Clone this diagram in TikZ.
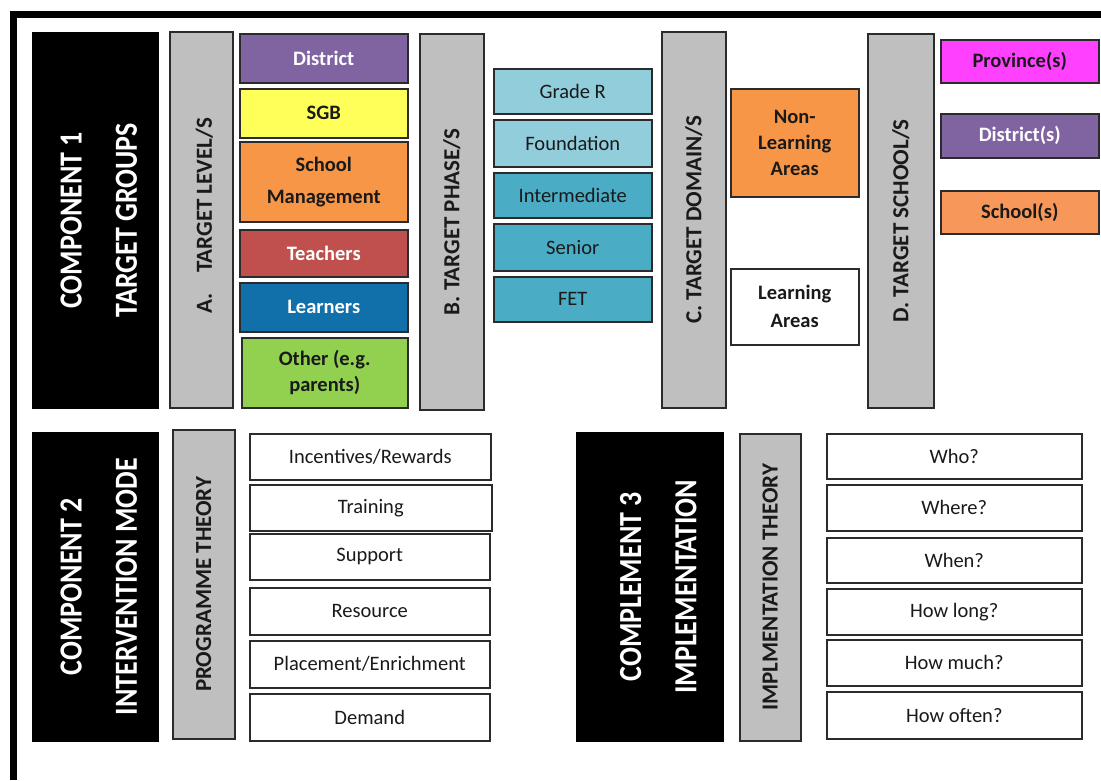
\documentclass[tikz,border=0pt]{standalone}
\usepackage{fontspec}
\setmainfont{Carlito}
\definecolor{boxline}{HTML}{2B2B2B}
\definecolor{barfill}{HTML}{BFBFBF}
\definecolor{cpurple}{HTML}{8064A2}
\definecolor{cyellow}{HTML}{FFFF5A}
\definecolor{corange}{HTML}{F79646}
\definecolor{cred}{HTML}{C0504D}
\definecolor{cblue}{HTML}{1170AA}
\definecolor{cgreen}{HTML}{92D050}
\definecolor{clblue}{HTML}{92CDDC}
\definecolor{cmblue}{HTML}{4BACC6}
\definecolor{cmagenta}{HTML}{FF40FF}
\definecolor{corange2}{HTML}{F8975A}
\definecolor{txt}{HTML}{1A1A1A}
\newcommand\fsn{\fontsize{20.5}{26}\selectfont}
\newcommand\mkbox[7]{\node[#1, anchor=north west, minimum width={#5-#3}, minimum height={#6-#4}] (#2) at (#3,#4) {#7};}
\tikzset{
  box/.style={draw=boxline, line width=1.5pt, inner sep=0pt, align=center, font=\fsn, text=txt},
  bbox/.style={box, font=\fsn\bfseries},
  blackbox/.style={fill=black, draw=black, line width=0.5pt, inner sep=0pt},
  graybar/.style={fill=barfill, draw=boxline, line width=1.5pt, inner sep=0pt},
  vtitle/.style={rotate=90, text=white, align=center, font=\fontsize{28}{48}\selectfont\bfseries},
  vbar/.style={rotate=90, text=txt, font=\fontsize{23}{28}\selectfont\bfseries}
}
\begin{document}
\begin{tikzpicture}[x=1pt,y=-1pt]
\useasboundingbox (0,0) rectangle (1101,780);
\fill[white] (0,0) rectangle (1101,780);
\coordinate (fb) at (13.5,780);
\coordinate (fc) at (13.5,14.5);
\coordinate (fr) at (1101,14.5);
\draw[line width=7pt, line join=miter] (fb) -- (fc) -- (fr);

% ---------- Component 1
\mkbox{blackbox}{c1}{32}{32}{158}{408}{}
\node[vtitle] (c1t) at ([xshift=3]c1.center) {\scalebox{1}[1.15]{\begin{tabular}{@{}c@{}}COMPONENT 1\\TARGET GROUPS\end{tabular}}};
\mkbox{graybar}{gA}{169}{31}{232}{407}{}
\node[vbar] (gAt) at ([xshift=3,yshift=4]gA.center) {A.\hspace{0.9em}TARGET LEVEL/S};
\mkbox{bbox, fill=cpurple, text=white}{district}{239}{33}{407}{82}{District}
\mkbox{bbox, fill=cyellow}{sgb}{239}{88}{407}{137}{SGB}
\mkbox{bbox, fill=corange, font=\fontsize{20.5}{32}\selectfont\bfseries}{schoolm}{239}{141}{407}{221}{School\\Management}
\mkbox{bbox, fill=cred, text=white}{teachers}{239}{229}{407}{276}{Teachers}
\mkbox{bbox, fill=cblue, text=white}{learners}{239}{282}{407}{331}{Learners}
\mkbox{bbox, fill=cgreen}{other}{241}{337}{407}{407}{Other (e.g.\\parents)}

\mkbox{graybar}{gB}{419}{33}{483}{409}{}
\node[vbar] (gBt) at (gB.center) {B. TARGET PHASE/S};
\mkbox{box, fill=clblue}{grader}{493}{68}{651}{113}{Grade R}
\mkbox{box, fill=clblue}{found}{493}{119}{651}{166}{Foundation}
\mkbox{box, fill=cmblue}{inter}{493}{172}{651}{217}{Intermediate}
\mkbox{box, fill=cmblue}{senior}{493}{223}{651}{270}{Senior}
\mkbox{box, fill=cmblue}{fet}{493}{276}{651}{321}{FET}

\mkbox{graybar}{gC}{661}{31}{725}{407}{}
\node[vbar] (gCt) at (gC.center) {C. TARGET DOMAIN/S};
\mkbox{bbox, fill=corange}{nonlearn}{730}{88}{858}{196}{Non-\\Learning\\Areas}
\mkbox{bbox, fill=white, font=\fontsize{20.5}{28}\selectfont\bfseries}{learn}{730}{268}{858}{344}{Learning\\Areas}

\mkbox{graybar}{gD}{867}{33}{933}{407}{}
\node[vbar] (gDt) at (gD.center) {D. TARGET SCHOOL/S};
\mkbox{bbox, fill=cmagenta}{prov}{940}{39}{1098}{82}{Province(s)}
\mkbox{bbox, fill=cpurple, text=white}{dists}{940}{113}{1098}{157}{District(s)}
\mkbox{bbox, fill=corange2}{schools}{940}{190}{1098}{233}{School(s)}

% ---------- Component 2
\mkbox{blackbox}{c2}{32}{432}{158}{741}{}
\node[vtitle] (c2t) at ([xshift=3]c2.center) {\scalebox{1}[1.15]{\begin{tabular}{@{}c@{}}COMPONENT 2\\INTERVENTION MODE\end{tabular}}};
\mkbox{graybar}{gP}{172}{429}{234}{738}{}
\node[vbar] (gPt) at (gP.center) {PROGRAMME THEORY};
\mkbox{box, fill=white}{inc}{249}{433}{490}{479}{Incentives/Rewards}
\mkbox{box, fill=white}{train}{249}{484}{491}{530}{Training}
\mkbox{box, fill=white}{support}{249}{533}{489}{579}{Support}
\mkbox{box, fill=white}{resource}{249}{587}{489}{634}{Resource}
\mkbox{box, fill=white}{place}{249}{640}{489}{687}{Placement/Enrichment}
\mkbox{box, fill=white}{demand}{249}{693}{489}{740}{Demand}

% ---------- Complement 3
\mkbox{blackbox}{c3}{576}{432}{723}{741}{}
\node[vtitle] (c3t) at ([xshift=8]c3.center) {\scalebox{1}[1.15]{\begin{tabular}{@{}c@{}}COMPLEMENT 3\\IMPLEMENTATION\end{tabular}}};
\mkbox{graybar}{gI}{739}{433}{800}{740}{}
\node[vbar] (gIt) at (gI.center) {IMPLMENTATION THEORY};
\mkbox{box, fill=white}{who}{826}{433}{1081}{478}{Who?}
\mkbox{box, fill=white}{where}{826}{484}{1081}{530}{Where?}
\mkbox{box, fill=white}{when}{826}{537}{1081}{582}{When?}
\mkbox{box, fill=white}{hlong}{826}{588}{1081}{634}{How long?}
\mkbox{box, fill=white}{hmuch}{826}{639}{1081}{685}{How much?}
\mkbox{box, fill=white}{hoften}{826}{691}{1081}{738}{How often?}
\end{tikzpicture}
\end{document}
